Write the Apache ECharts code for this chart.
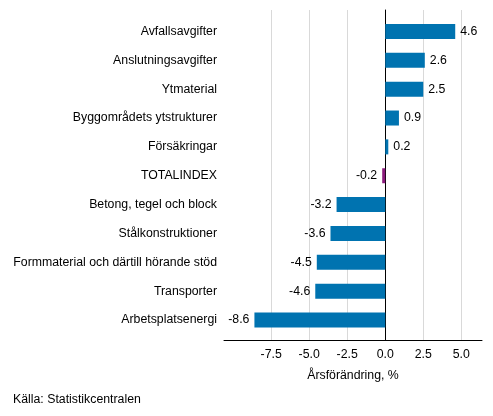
<!DOCTYPE html>
<html>
<head>
<meta charset="utf-8">
<script src="https://cdn.jsdelivr.net/npm/echarts@6/dist/echarts.min.js"></script>
<style>
  html, body { margin: 0; padding: 0; background: #fff; }
  #main { width: 493px; height: 416px; }
</style>
</head>
<body>
<div id="main"></div>
<script>
var categories = [
  'Avfallsavgifter',
  'Anslutningsavgifter',
  'Ytmaterial',
  'Byggområdets ytstrukturer',
  'Försäkringar',
  'TOTALINDEX',
  'Betong, tegel och block',
  'Stålkonstruktioner',
  'Formmaterial och därtill hörande stöd',
  'Transporter',
  'Arbetsplatsenergi'
];
var values = [4.6, 2.6, 2.5, 0.9, 0.2, -0.2, -3.2, -3.6, -4.5, -4.6, -8.6];
var tickValues = [-7.5, -5.0, -2.5, 0.0, 2.5, 5.0];
var highlight = 'TOTALINDEX';

var font = 'Arial, "Liberation Sans", sans-serif';
var fs = 12.3;
var xMin = -10.6, xMax = 6.36;

var myChart = echarts.init(document.getElementById('main'));

var barData = [];
for (var i = 0; i < values.length; i++) {
  var neg = values[i] < 0;
  barData.push({
    value: values[i],
    itemStyle: { color: categories[i] === highlight ? '#8b1b7c' : '#0073b0' },
    label: { position: neg ? 'left' : 'right' }
  });
}

var option = {
  animation: false,
  textStyle: { fontFamily: font },
  grid: [
    { left: 224, right: 11, top: 10, bottom: 76 },
    { left: 224, right: 11, top: 17, bottom: 81.5 }
  ],
  xAxis: [{
    gridIndex: 0,
    type: 'value',
    min: xMin,
    max: xMax,
    name: 'Årsförändring, %',
    nameLocation: 'middle',
    nameGap: 30,
    nameTextStyle: { color: '#000', fontSize: fs, fontFamily: font },
    axisLine: { show: true, onZero: false, lineStyle: { color: '#000', width: 1 } },
    axisTick: { show: false, customValues: tickValues },
    axisLabel: {
      customValues: tickValues,
      color: '#000',
      fontSize: fs,
      margin: 9,
      formatter: function (v) { return v.toFixed(1); }
    },
    splitLine: { show: true, lineStyle: { color: '#d9d9d9', width: 1 } }
  }, {
    gridIndex: 1,
    type: 'value',
    min: xMin,
    max: xMax,
    show: false
  }],
  yAxis: [{
    gridIndex: 0,
    type: 'value',
    axisLine: { show: true, onZero: true, lineStyle: { color: '#000', width: 1 } },
    axisTick: { show: false },
    axisLabel: { show: false },
    splitLine: { show: false }
  }, {
    gridIndex: 1,
    type: 'category',
    inverse: true,
    data: categories,
    axisLine: { show: false },
    axisTick: { show: false },
    axisLabel: { color: '#000', fontSize: fs, margin: 7 },
    splitLine: { show: false }
  }],
  series: [{
    type: 'bar',
    xAxisIndex: 1,
    yAxisIndex: 1,
    barWidth: 15,
    data: barData,
    label: {
      show: true,
      color: '#000',
      fontSize: fs,
      distance: 5,
      formatter: function (p) { return p.value.toFixed(1); }
    },
    z: 3
  }],
  graphic: [{
    type: 'text',
    left: 13,
    top: 394,
    style: { text: 'Källa: Statistikcentralen', fill: '#000', fontSize: fs, fontFamily: font }
  }]
};
myChart.setOption(option);
</script>
</body>
</html>
